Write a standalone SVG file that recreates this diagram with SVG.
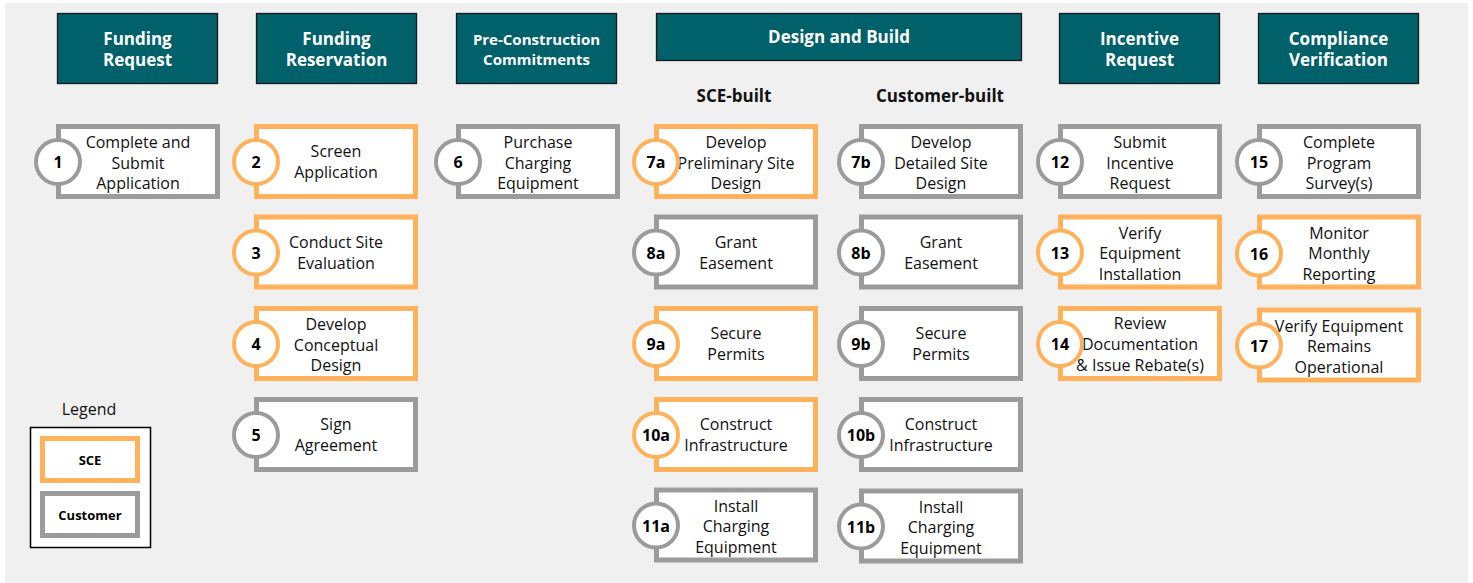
<svg xmlns="http://www.w3.org/2000/svg" width="1473" height="583" viewBox="0 0 1473 583">
<style>
.hdr{fill:#00616A;stroke:#1a1a1a;stroke-width:1.3}
.ht{font-family:"Open Sans","Noto Sans",sans-serif;font-weight:bold;font-size:17px;fill:#ffffff;text-anchor:middle}
.hts{font-size:15px}
.sub{font-family:"Open Sans","Noto Sans",sans-serif;font-weight:bold;font-size:17px;fill:#111111;text-anchor:middle}
.box{fill:#ffffff;stroke-width:5}
.o{stroke:#FFB25B}
.g{stroke:#9B9B9B}
.c{fill:#ffffff;stroke-width:4}
.t{font-family:"Open Sans","Noto Sans",sans-serif;font-size:16px;fill:#111111;text-anchor:middle}
.n{font-family:"Open Sans","Noto Sans",sans-serif;font-weight:bold;font-size:16px;fill:#000000;text-anchor:middle}
.lg{font-family:"Open Sans","Noto Sans",sans-serif;font-weight:bold;font-size:13px;fill:#000000;text-anchor:middle}
</style>
<rect x="0" y="0" width="1473" height="583" fill="#ffffff"/>
<rect x="5" y="3" width="1463" height="580" fill="#F0F0F0"/>

<g id="headers">
<g id="h-funding-request"><rect class="hdr" x="57.5" y="13.5" width="160" height="70"/><text class="ht" x="137.5" y="45">Funding</text><text class="ht" x="137.5" y="65.5">Request</text></g>
<g id="h-funding-reservation"><rect class="hdr" x="256.5" y="13.5" width="160" height="70"/><text class="ht" x="336.5" y="45">Funding</text><text class="ht" x="336.5" y="65.5">Reservation</text></g>
<g id="h-preconstruction"><rect class="hdr" x="456.5" y="13.5" width="160" height="70"/><text class="ht hts" x="536.5" y="45">Pre-Construction</text><text class="ht hts" x="536.5" y="65">Commitments</text></g>
<g id="h-design-build"><rect class="hdr" x="656.5" y="13.5" width="365" height="47"/><text class="ht" x="839" y="43">Design and Build</text></g>
<g id="h-incentive"><rect class="hdr" x="1059.5" y="13.5" width="160" height="70"/><text class="ht" x="1139.5" y="45">Incentive</text><text class="ht" x="1139.5" y="65.5">Request</text></g>
<g id="h-compliance"><rect class="hdr" x="1258.5" y="13.5" width="160" height="70"/><text class="ht" x="1338.5" y="45">Compliance</text><text class="ht" x="1338.5" y="65.5">Verification</text></g>
</g>

<text class="sub" x="734" y="102">SCE-built</text>
<text class="sub" x="940" y="102">Customer-built</text>

<g id="connectors"></g>

<g id="n1"><rect class="box g" x="58.5" y="126.5" width="159" height="70"/><text class="t" x="138" y="148">Complete and</text><text class="t" x="138" y="168.5">Submit</text><text class="t" x="138" y="189">Application</text><circle class="c g" cx="58" cy="162" r="22"/><text class="n" x="58" y="168">1</text></g>

<g id="n2"><rect class="box o" x="256.5" y="126.5" width="159" height="70"/><text class="t" x="336" y="157">Screen</text><text class="t" x="336" y="178">Application</text><circle class="c o" cx="256" cy="162" r="22"/><text class="n" x="256" y="168">2</text></g>
<g id="n3"><rect class="box o" x="256.5" y="217" width="159" height="70"/><text class="t" x="336" y="247.5">Conduct Site</text><text class="t" x="336" y="268.5">Evaluation</text><circle class="c o" cx="256" cy="252.5" r="22"/><text class="n" x="256" y="258.5">3</text></g>
<g id="n4"><rect class="box o" x="256.5" y="308.5" width="159" height="70"/><text class="t" x="336" y="330">Develop</text><text class="t" x="336" y="350.5">Conceptual</text><text class="t" x="336" y="371">Design</text><circle class="c o" cx="256" cy="344" r="22"/><text class="n" x="256" y="350">4</text></g>
<g id="n5"><rect class="box g" x="256.5" y="399.5" width="159" height="70"/><text class="t" x="336" y="430">Sign</text><text class="t" x="336" y="451">Agreement</text><circle class="c g" cx="256" cy="435" r="22"/><text class="n" x="256" y="441">5</text></g>

<g id="n6"><rect class="box g" x="458.5" y="126.5" width="159" height="70"/><text class="t" x="538" y="148">Purchase</text><text class="t" x="538" y="168.5">Charging</text><text class="t" x="538" y="189">Equipment</text><circle class="c g" cx="458" cy="162" r="22"/><text class="n" x="458" y="168">6</text></g>

<g id="n7a"><rect class="box o" x="656.5" y="126.5" width="159" height="70"/><text class="t" x="736" y="148">Develop</text><text class="t" x="736" y="168.5">Preliminary Site</text><text class="t" x="736" y="189">Design</text><circle class="c o" cx="656" cy="162" r="22"/><text class="n" x="656" y="168">7a</text></g>
<g id="n8a"><rect class="box g" x="656.5" y="217" width="159" height="70"/><text class="t" x="736" y="247.5">Grant</text><text class="t" x="736" y="268.5">Easement</text><circle class="c g" cx="656" cy="252.5" r="22"/><text class="n" x="656" y="258.5">8a</text></g>
<g id="n9a"><rect class="box o" x="656.5" y="308.5" width="159" height="70"/><text class="t" x="736" y="339">Secure</text><text class="t" x="736" y="360">Permits</text><circle class="c o" cx="656" cy="344" r="22"/><text class="n" x="656" y="350">9a</text></g>
<g id="n10a"><rect class="box o" x="656.5" y="399.5" width="159" height="70"/><text class="t" x="736" y="430">Construct</text><text class="t" x="736" y="451">Infrastructure</text><circle class="c o" cx="656" cy="435" r="22"/><text class="n" x="656" y="441">10a</text></g>
<g id="n11a"><rect class="box g" x="656.5" y="490" width="159" height="70"/><text class="t" x="736" y="511.5">Install</text><text class="t" x="736" y="532">Charging</text><text class="t" x="736" y="552.5">Equipment</text><circle class="c g" cx="656" cy="525.5" r="22"/><text class="n" x="656" y="531.5">11a</text></g>

<g id="n7b"><rect class="box g" x="861.5" y="126.5" width="159" height="70"/><text class="t" x="941" y="148">Develop</text><text class="t" x="941" y="168.5">Detailed Site</text><text class="t" x="941" y="189">Design</text><circle class="c g" cx="861" cy="162" r="22"/><text class="n" x="861" y="168">7b</text></g>
<g id="n8b"><rect class="box g" x="861.5" y="217" width="159" height="70"/><text class="t" x="941" y="247.5">Grant</text><text class="t" x="941" y="268.5">Easement</text><circle class="c g" cx="861" cy="252.5" r="22"/><text class="n" x="861" y="258.5">8b</text></g>
<g id="n9b"><rect class="box g" x="861.5" y="308.5" width="159" height="70"/><text class="t" x="941" y="339">Secure</text><text class="t" x="941" y="360">Permits</text><circle class="c g" cx="861" cy="344" r="22"/><text class="n" x="861" y="350">9b</text></g>
<g id="n10b"><rect class="box g" x="861.5" y="399.5" width="159" height="70"/><text class="t" x="941" y="430">Construct</text><text class="t" x="941" y="451">Infrastructure</text><circle class="c g" cx="861" cy="435" r="22"/><text class="n" x="861" y="441">10b</text></g>
<g id="n11b"><rect class="box g" x="861.5" y="491" width="159" height="70"/><text class="t" x="941" y="512.5">Install</text><text class="t" x="941" y="533">Charging</text><text class="t" x="941" y="553.5">Equipment</text><circle class="c g" cx="861" cy="526.5" r="22"/><text class="n" x="861" y="532.5">11b</text></g>

<g id="n12"><rect class="box g" x="1060.5" y="126.5" width="159" height="70"/><text class="t" x="1140" y="148">Submit</text><text class="t" x="1140" y="168.5">Incentive</text><text class="t" x="1140" y="189">Request</text><circle class="c g" cx="1060" cy="162" r="22"/><text class="n" x="1060" y="168">12</text></g>
<g id="n13"><rect class="box o" x="1060.5" y="217" width="159" height="70"/><text class="t" x="1140" y="238.5">Verify</text><text class="t" x="1140" y="259">Equipment</text><text class="t" x="1140" y="279.5">Installation</text><circle class="c o" cx="1060" cy="252.5" r="22"/><text class="n" x="1060" y="258.5">13</text></g>
<g id="n14"><rect class="box o" x="1060.5" y="308.5" width="159" height="70"/><text class="t" x="1140" y="329">Review</text><text class="t" x="1140" y="350">Documentation</text><text class="t" x="1140" y="370.5">&amp; Issue Rebate(s)</text><circle class="c o" cx="1060" cy="344" r="22"/><text class="n" x="1060" y="350">14</text></g>

<g id="n15"><rect class="box g" x="1259.5" y="126.5" width="159" height="70"/><text class="t" x="1339" y="148">Complete</text><text class="t" x="1339" y="168.5">Program</text><text class="t" x="1339" y="189">Survey(s)</text><circle class="c g" cx="1259" cy="162" r="22"/><text class="n" x="1259" y="168">15</text></g>
<g id="n16"><rect class="box o" x="1259.5" y="217" width="159" height="70"/><text class="t" x="1339" y="238.5">Monitor</text><text class="t" x="1339" y="259">Monthly</text><text class="t" x="1339" y="279.5">Reporting</text><circle class="c o" cx="1259" cy="253.5" r="22"/><text class="n" x="1259" y="259.5">16</text></g>
<g id="n17"><rect class="box o" x="1259.5" y="310" width="159" height="70"/><text class="t" x="1339" y="331.5">Verify Equipment</text><text class="t" x="1339" y="352">Remains</text><text class="t" x="1339" y="372.5">Operational</text><circle class="c o" cx="1259" cy="345.5" r="22"/><text class="n" x="1259" y="351.5">17</text></g>

<g id="legend">
<text class="t" x="89" y="415">Legend</text>
<rect x="30.5" y="427.5" width="120" height="120" fill="#ffffff" stroke="#000000" stroke-width="1.5"/>
<rect class="box o" x="42.5" y="438.5" width="95" height="42"/>
<text class="lg" x="90" y="465">SCE</text>
<rect class="box g" x="42.5" y="493.5" width="95" height="42"/>
<text class="lg" x="90" y="520">Customer</text>
</g>
</svg>
